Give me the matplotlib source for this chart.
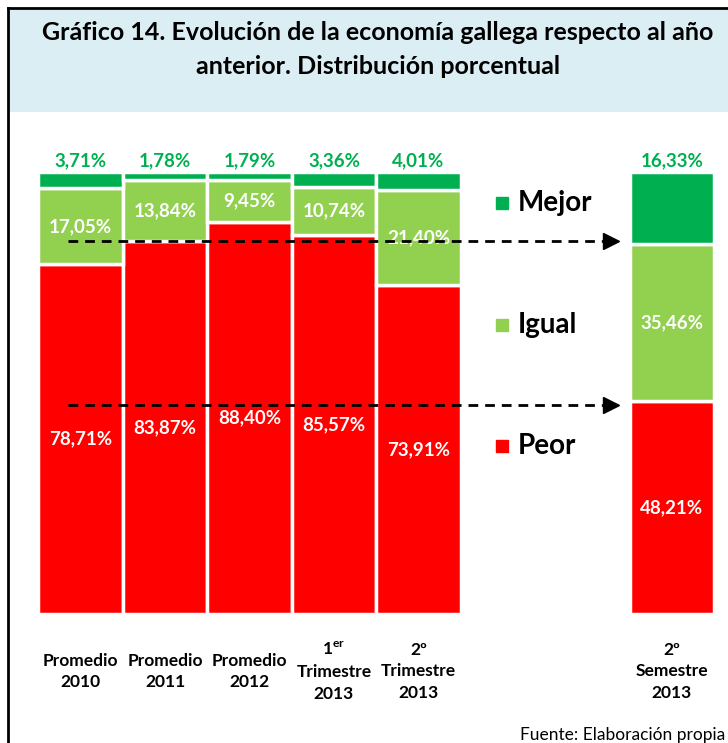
import matplotlib
matplotlib.use("Agg")
import matplotlib.pyplot as plt
from matplotlib.patches import Rectangle
from matplotlib.lines import Line2D

plt.rcParams['font.family'] = ['Lato', 'DejaVu Sans']
plt.rcParams['mathtext.fontset'] = 'custom'
plt.rcParams['mathtext.rm'] = 'Lato'
plt.rcParams['mathtext.bf'] = 'Lato:bold'

# ---- data ----
categories = ["Promedio\n2010", "Promedio\n2011", "Promedio\n2012",
              "1$^{\\mathbf{er}}$\nTrimestre\n2013", "2º\nTrimestre\n2013",
              "2º\nSemestre\n2013"]
positions = [0, 1, 2, 3, 4, 7]
peor = [78.71, 83.87, 88.40, 85.57, 73.91, 48.21]
igual = [17.05, 13.84, 9.45, 10.74, 21.40, 35.46]
mejor = [3.71, 1.78, 1.79, 3.36, 4.01, 16.33]
series_names = ["Mejor", "Igual", "Peor"]

C_MEJOR = "#00B050"
C_IGUAL = "#92D050"
C_PEOR = "#FF0000"

def fmt(v):
    return f"{v:.2f}".replace(".", ",") + "%"

# 100% stacked: shares of each bar total
totals = [p + i + m for p, i, m in zip(peor, igual, mejor)]
peor_s = [p / t * 100 for p, t in zip(peor, totals)]
igual_s = [i / t * 100 for i, t in zip(igual, totals)]
mejor_s = [m / t * 100 for m, t in zip(mejor, totals)]

W, H = 728, 743
fig = plt.figure(figsize=(W / 100, H / 100), dpi=100)

# frame and title background
fig.patches.append(Rectangle((10 / W, 1 - 112 / H), 1, 102 / H,
                             transform=fig.transFigure, facecolor="#DAEEF3",
                             edgecolor="none", zorder=0))
fig.lines.append(Line2D([8 / W, 8 / W], [0, 1 - 8 / H], transform=fig.transFigure,
                        color="black", lw=2))
fig.lines.append(Line2D([8 / W, 1], [1 - 8 / H, 1 - 8 / H], transform=fig.transFigure,
                        color="black", lw=2))

fig.text(378 / W, 1 - 33 / H, "Gráfico 14. Evolución de la economía gallega respecto al año",
         ha="center", va="center", fontsize=18, fontweight="bold", color="black")
fig.text(378 / W, 1 - 66 / H, "anterior. Distribución porcentual",
         ha="center", va="center", fontsize=18, fontweight="bold", color="black")

# axes: x pixel 38.25..714.25 ; y pixel 614 (0%) .. 172 (100%)
ax = fig.add_axes([38.25 / W, (H - 614) / H, 676 / W, 442 / H])
ax.set_xlim(-0.5, 7.5)
ax.set_ylim(0, 100)
ax.axis("off")

lw = 2.5
b2 = [p + i for p, i in zip(peor_s, igual_s)]
ax.bar(positions, peor_s, width=1.0, color=C_PEOR, edgecolor="white", linewidth=lw, zorder=2)
ax.bar(positions, igual_s, bottom=peor_s, width=1.0, color=C_IGUAL, edgecolor="white",
       linewidth=lw, zorder=2)
ax.bar(positions, mejor_s, bottom=b2, width=1.0, color=C_MEJOR, edgecolor="white",
       linewidth=lw, zorder=2)

for k, x in enumerate(positions):
    p, i, m = peor_s[k], igual_s[k], mejor_s[k]
    ax.text(x, p / 2, fmt(peor[k]), ha="center", va="center", color="white",
            fontsize=13.5, fontweight="bold", zorder=3)
    ax.text(x, p + i / 2, fmt(igual[k]), ha="center", va="center", color="white",
            fontsize=13.5, fontweight="bold", zorder=3)
    ax.text(x, 102.6, fmt(mejor[k]), ha="center", va="center", color=C_MEJOR,
            fontsize=13.5, fontweight="bold", zorder=3, clip_on=False)

# category labels
for x, lab in zip(positions, categories):
    ax.text(x, -13.0, lab, ha="center", va="center", fontsize=12.5, fontweight="bold",
            linespacing=1.45, clip_on=False)

# legend (manual)
leg_y = [93.0, 65.4, 38.0]
leg_c = [C_MEJOR, C_IGUAL, C_PEOR]
for name, yy, c in zip(series_names, leg_y, leg_c):
    ax.plot([4.99], [yy], marker="s", ms=9, color=c, linestyle="none", clip_on=False)
    ax.text(5.17, yy, name, ha="left", va="center", fontsize=20, fontweight="bold",
            color="black")

# dashed arrows
for yy in [84.4, 47.3]:
    ax.plot([-0.15, 6.2], [yy, yy], color="black", lw=2, dashes=(3.5, 2.5),
            zorder=4, clip_on=False)
    ax.plot([6.28], [yy], marker=">", ms=12, color="black", linestyle="none",
            zorder=4, clip_on=False)

fig.text(725 / W, 1 - 735 / H, "Fuente: Elaboración propia", ha="right", va="center",
         fontsize=12.5, color="black")

fig.savefig("out.png", dpi=100)
